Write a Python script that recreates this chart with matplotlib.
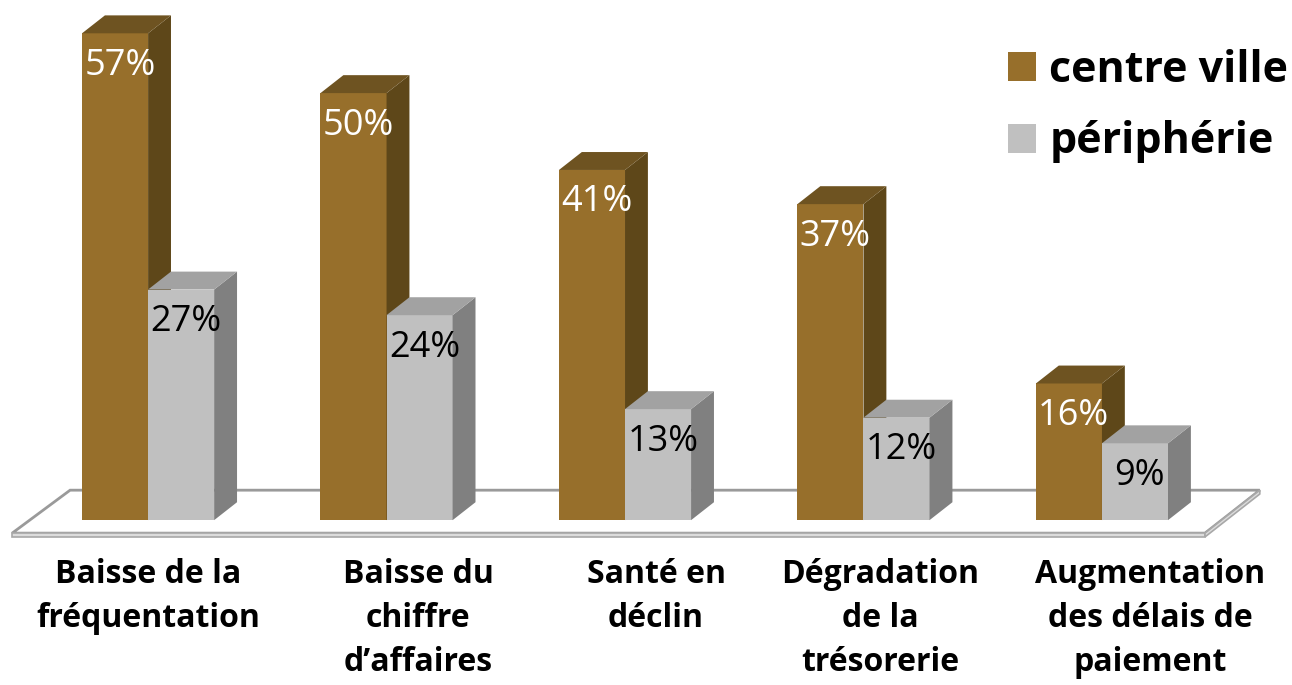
import matplotlib
matplotlib.use("Agg")
import matplotlib.pyplot as plt
from matplotlib.patches import Polygon, Rectangle, Patch

# Data
categories = ["Baisse de la\nfréquentation", "Baisse du\nchiffre\nd\u2019affaires",
              "Santé en\ndéclin", "Dégradation\nde la\ntrésorerie",
              "Augmentation\ndes délais de\npaiement"]
centre_ville = [57, 50, 41, 37, 16]
peripherie = [27, 24, 13, 12, 9]
series_names = ["centre ville", "périphérie"]

# Colours (front, side, top)
brown = ("#976f2b", "#5e4719", "#6e5321")
grey = ("#c0c0c0", "#808080", "#a2a2a2")

# 3D look
W = 0.277     # bar width (in category units)
DX = 0.096    # depth offset x
DY = 2.1      # depth offset y (in %)

# the category text boxes are not exactly centred under the groups
label_shift = [0.0, 0.132, 0.130, 0.069, 0.201]

FONT = "Open Sans"


def draw_bar(ax, x0, h, cols):
    front, side, top = cols
    ax.add_patch(Rectangle((x0, 0), W, h, facecolor=front, edgecolor="none", zorder=3))
    ax.add_patch(Polygon([(x0 + W, 0), (x0 + W + DX, DY), (x0 + W + DX, h + DY), (x0 + W, h)],
                         closed=True, facecolor=side, edgecolor="none", zorder=3))
    ax.add_patch(Polygon([(x0, h), (x0 + DX, h + DY), (x0 + W + DX, h + DY), (x0 + W, h)],
                         closed=True, facecolor=top, edgecolor="none", zorder=3))


fig = plt.figure(figsize=(12.92, 6.85), dpi=100)
ax = fig.add_axes([0, 0, 1, 1])
ax.set_xlim(-0.621, 4.797)
ax.set_ylim(-19.3, 60.9)
ax.axis("off")

# floor slab
fl, fr = (-0.570, -1.52), (4.432, -1.52)
bl, br = (-0.327, 3.51), (4.662, 3.51)
T = 0.45
ax.add_patch(Polygon([fl, fr, br, bl], closed=True, facecolor="white",
                     edgecolor="#9a9a9a", lw=2, zorder=1))
ax.add_patch(Polygon([fl, fr, (fr[0], fr[1] - T), (fl[0], fl[1] - T)], closed=True,
                     facecolor="#dcdcdc", edgecolor="#a8a8a8", lw=1.2, zorder=1))
ax.add_patch(Polygon([fr, br, (br[0], br[1] - T), (fr[0], fr[1] - T)], closed=True,
                     facecolor="#dcdcdc", edgecolor="#a8a8a8", lw=1.2, zorder=1))

for i, (cv, pe) in enumerate(zip(centre_ville, peripherie)):
    draw_bar(ax, i - W, cv, brown)
    draw_bar(ax, i, pe, grey)
    ax.text(i - W / 2 + 0.02, cv - 1.7, f"{cv}%", ha="center", va="top",
            color="white", fontsize=26, family=FONT, zorder=5)
    ax.text(i + W / 2 + 0.02, pe - 1.7, f"{pe}%", ha="center", va="top",
            color="black", fontsize=26, family=FONT, zorder=5)
    ax.text(i + label_shift[i], -4.4, categories[i], ha="center", va="top",
            fontsize=23, fontweight="bold", family=FONT, linespacing=1.45)

handles = [Patch(facecolor=brown[0]), Patch(facecolor=grey[0])]
fig.legend(handles, series_names, loc="upper left",
           bbox_to_anchor=(1008 / 1292, 1 - 49 / 685), frameon=False,
           prop={"family": FONT, "weight": "bold", "size": 31},
           handlelength=0.66, handleheight=0.66, handletextpad=0.3,
           labelspacing=0.66, borderpad=0, borderaxespad=0)

fig.savefig("out.png", dpi=100)
